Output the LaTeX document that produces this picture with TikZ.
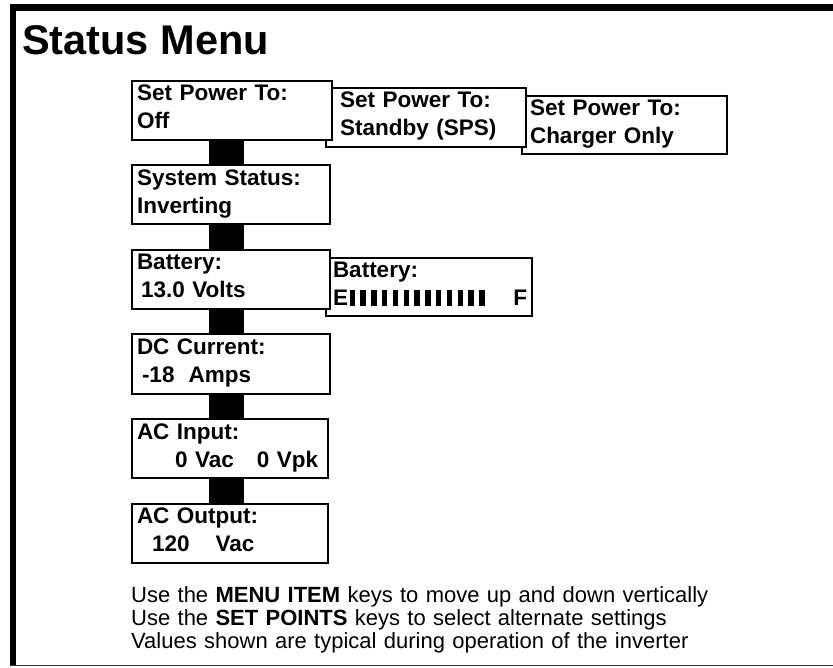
\documentclass[tikz,border=0pt]{standalone}
\usepackage{fontspec}
\setmainfont{Liberation Sans}
\usetikzlibrary{positioning}
\pgfdeclarelayer{back}
\pgfdeclarelayer{backmost}
\pgfsetlayers{backmost,back,main}

\newcommand\titlefont{\fontsize{41.5}{48}\selectfont\bfseries}
\newcommand\boxfont{\fontsize{22.5}{28}\selectfont\bfseries}
\newcommand\notefont{\fontsize{22}{23}\selectfont}
\newcommand\gaugebars{\foreach \i in {1,...,13}{\rule{5.4pt}{16pt}\hspace{5.4pt}}}

\begin{document}
\begin{tikzpicture}[
    x=1pt, y=-1pt,
    node distance=23.5pt and -8pt,
    menubox/.style={draw, line width=2pt, fill=white, align=left, font=\boxfont,
        inner xsep=5pt, inner ysep=4pt, text height=16pt, text depth=35pt, text width=#1},
    menubox/.default=188pt,
    link/.style={line width=35pt, draw=black},
    frame/.style={draw=black, line width=6.5pt}
]
    \useasboundingbox (0,0) rectangle (833,668);

    % Outer frame
    \draw[frame] (13,666) -- (13,7.5) -- (833,7.5);
    \draw[black!80, line width=1.5pt] (10,665.5) -- (833,665.5);

    % Title
    \node[font=\titlefont, anchor=base west, inner sep=0pt] (title) at (22,55) {Status Menu};

    % Menu items
    \node[menubox=190pt, anchor=north west] (off) at (131,80) {Set Power To:\\Off};
    \node[menubox, below=of off.south west, anchor=north west] (sys) {System Status:\\Inverting};
    \node[menubox, below=of sys] (bat) {Battery:\\\hspace*{4pt}13.0 Volts};
    \node[menubox, below=of bat] (dc) {DC Current:\\\hspace*{5pt}-18\hspace{14pt}Amps};
    \node[menubox=186pt, below=of dc.south west, anchor=north west] (acin) {AC Input:\\\hspace*{38pt}0 Vac\hspace{23pt}0 Vpk};
    \node[menubox=186pt, below=of acin] (acout) {AC Output:\\\hspace*{15pt}120\hspace{26pt}Vac};

    % Set points (behind)
    \begin{pgfonlayer}{back}
    \node[menubox=190pt, right=-8pt of off.north east, anchor=north west, yshift=-7pt] (standby)
        {\hspace*{9pt}Set Power To:\\\hspace*{9pt}Standby (SPS)};
    \node[menubox=196pt, text depth=34pt, right=-6pt of bat.north east, anchor=north west, yshift=-8pt] (gauge)
        {\hspace*{2pt}Battery:\\\hspace*{2pt}E\hspace{1.5pt}\gaugebars\hfill F\hspace*{8pt}};
    \end{pgfonlayer}
    \begin{pgfonlayer}{backmost}
    \node[menubox=195pt, text depth=34pt, right=-6pt of standby.north east, anchor=north west, yshift=-8pt] (charger)
        {\hspace*{3pt}Set Power To:\\\hspace*{3pt}Charger Only};
    \end{pgfonlayer}

    % Links
    \coordinate (spine) at ([xshift=-5pt]sys.center);
    \draw[link] (spine |- off.south) -- (spine |- sys.north);
    \draw[link] (spine |- sys.south) -- (spine |- bat.north);
    \draw[link] (spine |- bat.south) -- (spine |- dc.north);
    \draw[link] (spine |- dc.south) -- (spine |- acin.north);
    \draw[link] (spine |- acin.south) -- (spine |- acout.north);

    % Notes
    \node[font=\notefont, anchor=base west, align=left, inner sep=0pt, text width=700pt] (notes) at (131,602)
        {Use the \textbf{MENU ITEM} keys to move up and down vertically\\
         Use the \textbf{SET POINTS} keys to select alternate settings\\
         Values shown are typical during operation of the inverter};
\end{tikzpicture}
\end{document}
